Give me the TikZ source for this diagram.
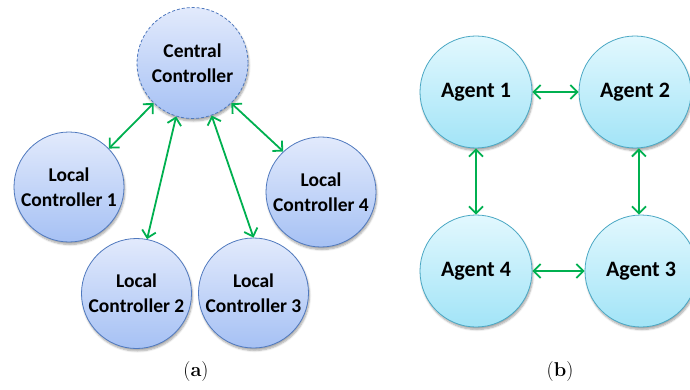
\documentclass[tikz,border=0pt]{standalone}
\usepackage{fontspec}
\setmainfont{Carlito}
\newfontfamily\lmr{Latin Modern Roman}
\usetikzlibrary{arrows.meta,shadows.blur}
\definecolor{arrowgreen}{HTML}{00B050}
\definecolor{ctrltop}{HTML}{E2EAFC}
\definecolor{ctrlbot}{HTML}{A6C1F4}
\definecolor{ctrlline}{HTML}{5079BE}
\definecolor{agtop}{HTML}{E2F8FE}
\definecolor{agbot}{HTML}{A2E4F7}
\definecolor{agline}{HTML}{4BA8C4}
\tikzset{
  ctrl/.style={circle, minimum size=110pt, inner sep=0pt, draw=ctrlline, line width=0.8pt,
    top color=ctrltop, bottom color=ctrlbot, align=center,
    font=\bfseries\fontsize{19.5}{25}\selectfont,
    blur shadow={shadow xshift=1pt, shadow yshift=-2.5pt, shadow blur steps=6, shadow opacity=35}},
  centralctrl/.style={ctrl, minimum size=111pt, dash pattern=on 3pt off 2pt},
  agent/.style={circle, minimum size=112pt, inner sep=0pt, draw=agline, line width=0.8pt,
    top color=agtop, bottom color=agbot, align=center,
    font=\bfseries\fontsize{22}{26}\selectfont,
    blur shadow={shadow xshift=1pt, shadow yshift=-2.5pt, shadow blur steps=6, shadow opacity=35}},
  link/.style={arrowgreen, line width=1.8pt,
    {Straight Barb[length=7pt,width=14pt]}-{Straight Barb[length=7pt,width=14pt]}},
  sublabel/.style={font=\lmr\fontsize{20}{22}\selectfont}
}
\begin{document}
\begin{tikzpicture}[x=1pt,y=-1pt]
\useasboundingbox (0,0) rectangle (690,390);
\node[centralctrl] (cc) at (192.5,63) {Central\\Controller};
\node[ctrl] (lc1) at (69,187) {Local\\Controller 1};
\node[ctrl] (lc2) at (136.5,293.5) {Local\\Controller 2};
\node[ctrl] (lc3) at (253.5,293) {Local\\Controller 3};
\node[ctrl] (lc4) at (321,192) {Local\\Controller 4};
\draw[link] (cc.226) -- (lc1.44);
\draw[link] (cc.253.5) -- (lc2.79.5);
\draw[link] (cc.290.6) -- (lc3.90.5);
\draw[link] (cc.314) -- (lc4.133.6);

\node[agent] (a1) at (476,92) {Agent 1};
\node[agent] (a2) at (635,92) {Agent 2};
\node[agent] (a4) at (476,271) {Agent 4};
\node[agent] (a3) at (641,271) {Agent 3};
\draw[link] (a1.east) -- (a2.west);
\draw[link] (a4.east) -- (a3.west);
\draw[link] (a1.south) -- (a4.north);
\draw[link] (a2.-86) -- (a3.92);

\node[sublabel] (la) at (196,372) {(\textbf{a})};
\node[sublabel] (lb) at (560,372) {(\textbf{b})};
\end{tikzpicture}
\end{document}
